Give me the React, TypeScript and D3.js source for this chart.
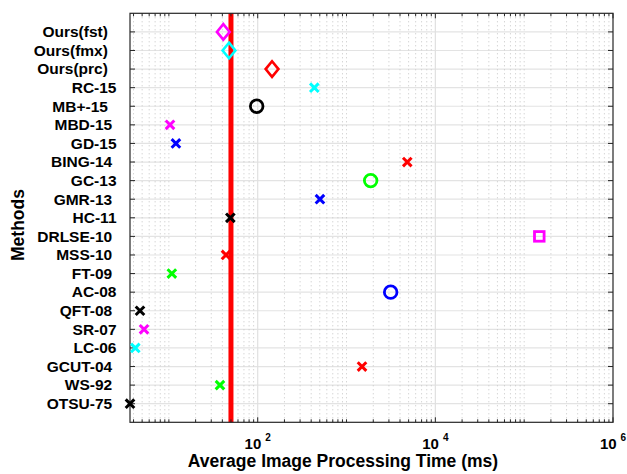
import React from "react";
import * as d3 from "d3";

const methods = [
  "Ours(fst)  ", "Ours(fmx)  ", "Ours(prc)  ", "RC-15", "MB+-15  ", "MBD-15 ", "GD-15",
  "BING-14 ", "GC-13", "GMR-13 ", "HC-11", "DRLSE-10 ", "MSS-10 ", "FT-09 ", "AC-08",
  "QFT-08 ", "SR-07", "LC-06", "GCUT-04 ", "WS-92 ", "OTSU-75 ",
];
const times = [
  41.0, 47.5, 145, 434, 97.4, 10.3, 12.0,
  4830, 1870, 502, 49.2, 148000, 44.0, 10.8, 3140,
  4.73, 5.25, 4.19, 1494, 37.6, 3.65,
];
const markers = [
  "diamond", "diamond", "diamond", "x", "circle", "x", "x",
  "x", "circle", "x", "x", "square", "x", "x", "circle",
  "x", "x", "x", "x", "x", "x",
];
const colors = [
  "#ff00ff", "#00ffff", "#ff0000", "#00ffff", "#000000", "#ff00ff", "#0000ff",
  "#ff0000", "#00ff00", "#0000ff", "#000000", "#ff00ff", "#ff0000", "#00ff00", "#0000ff",
  "#000000", "#ff00ff", "#00ffff", "#ff0000", "#00ff00", "#000000",
];
const xDomain = [3.65, 1e6];
const majorTicks = [1e2, 1e4, 1e6];
const tickExponents = ["2", "4", "6"];
const thresholdTime = 50;
const xTitle = "Average Image Processing Time (ms)";
const yTitle = "Methods";

const W = 627, H = 474;
const L = 130, R = 613, T = 13.3, B = 422.3;
const FONT = "'Liberation Sans', Arial, Helvetica, sans-serif";

function Marker({ shape, x, y, color }: { shape: string; x: number; y: number; color: string }) {
  if (shape === "x") {
    const s = 4.3;
    return (
      <path d={`M${x - s},${y - s}L${x + s},${y + s}M${x - s},${y + s}L${x + s},${y - s}`}
        stroke={color} strokeWidth={3} fill="none" />
    );
  }
  if (shape === "circle") {
    return <circle cx={x} cy={y} r={6.3} stroke={color} strokeWidth={2.8} fill="none" />;
  }
  if (shape === "square") {
    const s = 4.8;
    return <rect x={x - s} y={y - s} width={2 * s} height={2 * s} stroke={color} strokeWidth={2.8} fill="none" />;
  }
  const hw = 6.4, hh = 7.8;
  return (
    <path d={`M${x},${y - hh}L${x + hw},${y}L${x},${y + hh}L${x - hw},${y}Z`}
      stroke={color} strokeWidth={2.6} fill="none" strokeLinejoin="miter" />
  );
}

export default function App() {
  const x = d3.scaleLog().domain(xDomain).range([L, R]);
  const y = d3.scalePoint<string>().domain(methods).range([T, B]).padding(1);

  const allTicks: number[] = [];
  for (let e = 0; e <= 6; e++) {
    for (let m = 1; m <= 9; m++) {
      const v = m * Math.pow(10, e);
      if (v >= xDomain[0] && v <= xDomain[1]) allTicks.push(v);
    }
  }
  const isMajor = (v: number) => majorTicks.some((t) => Math.abs(t - v) / t < 1e-9);
  const minorTicks = allTicks.filter((v) => !isMajor(v));

  return (
    <svg width={W} height={H} style={{ position: "absolute", left: 0, top: 0, background: "#fff" }}
      fontFamily={FONT}>
      <rect x={0} y={0} width={W} height={H} fill="#fff" />
      {methods.map((m) => (
        <line key={"hg" + m} x1={L} x2={R} y1={y(m)} y2={y(m)} stroke="#e3e3e3" strokeWidth={1.2} />
      ))}
      {minorTicks.map((v) => (
        <line key={"vg" + v} x1={x(v)} x2={x(v)} y1={T} y2={B} stroke="#c4c4c4"
          strokeWidth={1} strokeDasharray="1,3" />
      ))}
      {majorTicks.filter((v) => x(v) < R - 1).map((v) => (
        <line key={"mg" + v} x1={x(v)} x2={x(v)} y1={T} y2={B} stroke="#e0e0e0" strokeWidth={1.2} />
      ))}
      <line x1={x(thresholdTime)} x2={x(thresholdTime)} y1={T} y2={B} stroke="#ff0000" strokeWidth={5} />
      {minorTicks.map((v) => (
        <g key={"mt" + v} stroke="#262626" strokeWidth={1}>
          <line x1={x(v)} x2={x(v)} y1={B} y2={B - 3} />
          <line x1={x(v)} x2={x(v)} y1={T} y2={T + 3} />
        </g>
      ))}
      {majorTicks.map((v) => (
        <g key={"Mt" + v} stroke="#262626" strokeWidth={1}>
          <line x1={x(v)} x2={x(v)} y1={B} y2={B - 5} />
          <line x1={x(v)} x2={x(v)} y1={T} y2={T + 5} />
        </g>
      ))}
      {methods.map((m) => (
        <g key={"yt" + m} stroke="#262626" strokeWidth={1}>
          <line x1={L} x2={L + 5} y1={y(m)} y2={y(m)} />
          <line x1={R} x2={R - 5} y1={y(m)} y2={y(m)} />
        </g>
      ))}
      <rect x={L} y={T} width={R - L} height={B - T} fill="none" stroke="#262626" strokeWidth={1.2} />
      {methods.map((m, i) => (
        <Marker key={"mk" + m} shape={markers[i]} x={x(times[i])} y={y(m)!} color={colors[i]} />
      ))}
      {methods.map((m) => (
        <text key={"yl" + m} x={116.5} y={y(m)! + 5.3} textAnchor="end" fontSize={15.5}
          fontWeight="bold" fill="#000" style={{ whiteSpace: "pre" }}>{m}</text>
      ))}
      {majorTicks.map((v, i) => (
        <text key={"xl" + v} x={x(v)} y={449} textAnchor="middle" fontSize={15} fontWeight="bold" fill="#000">
          10<tspan dx={4} dy={-8} fontSize={10}>{tickExponents[i]}</tspan>
        </text>
      ))}
      <text x={343} y={467} textAnchor="middle" fontSize={17.5} fontWeight="bold" fill="#000">{xTitle}</text>
      <text transform={`translate(23.5,225) rotate(-90)`} textAnchor="middle" fontSize={17.5}
        fontWeight="bold" fill="#000">{yTitle}</text>
    </svg>
  );
}
